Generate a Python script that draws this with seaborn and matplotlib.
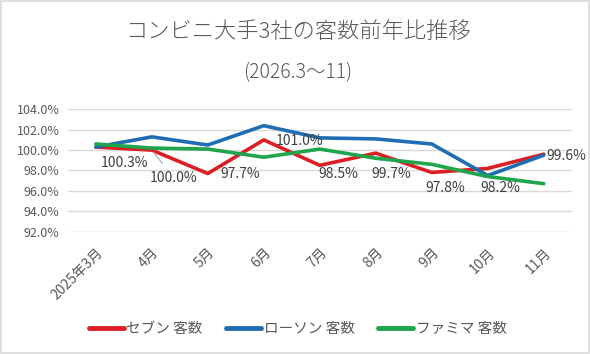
import matplotlib
matplotlib.use("Agg")
import matplotlib.pyplot as plt
import seaborn as sns
import pandas as pd
from matplotlib.patches import Rectangle
from matplotlib.ticker import FuncFormatter

months = ["2025年3月", "4月", "5月", "6月", "7月", "8月", "9月", "10月", "11月"]
seven = [100.3, 100.0, 97.7, 101.0, 98.5, 99.7, 97.8, 98.2, 99.6]
lawson = [100.3, 101.3, 100.5, 102.4, 101.2, 101.1, 100.6, 97.5, 99.5]
famima = [100.6, 100.2, 100.1, 99.3, 100.1, 99.2, 98.6, 97.4, 96.7]
series_names = ["セブン 客数", "ローソン 客数", "ファミマ 客数"]
title = "コンビニ大手3社の客数前年比推移"
subtitle = "(2026.3～11)"

sns.set_theme(style="white")
plt.rcParams["font.family"] = ["Noto Sans CJK JP", "DejaVu Sans"]

df = pd.DataFrame({
    "month": months * 3,
    "idx": list(range(len(months))) * 3,
    "value": seven + lawson + famima,
    "series": [series_names[0]] * 9 + [series_names[1]] * 9 + [series_names[2]] * 9,
})

palette = {series_names[0]: "#dc1f24", series_names[1]: "#1f6db3", series_names[2]: "#1fa54c"}

fig = plt.figure(figsize=(5.9, 3.54), dpi=100)
ax = fig.add_axes([0.115, 0.346, 0.854, 0.345])

sns.lineplot(data=df, x="idx", y="value", hue="series", palette=palette,
             linewidth=2.6, ax=ax, legend=True, sort=False)

ax.set_xlim(-0.5, len(months) - 0.5)
ax.set_ylim(92, 104)
ax.set_yticks([92, 94, 96, 98, 100, 102, 104])
ax.yaxis.set_major_formatter(FuncFormatter(lambda v, p: f"{v:.1f}%"))
ax.set_xticks(range(len(months)))
ax.set_xticklabels(months, rotation=45, ha="right", rotation_mode="anchor")
ax.tick_params(axis="x", length=0, pad=10, labelsize=10, labelcolor="#595959")
ax.tick_params(axis="y", length=0, pad=6, labelsize=9, labelcolor="#595959")
ax.grid(axis="y", color="#d9d9d9", linewidth=1)
for s in ax.spines.values():
    s.set_visible(False)
ax.set_xlabel("")
ax.set_ylabel("")

# data labels for セブン
offsets = [(20.9, -11.5), (15.8, -20.2), (23, -0.7), (26, -0.7), (13.7, -6.5),
           (11.5, -15.1), (10, -11.5), (9, -14.4), (16.6, -1.4)]
for i, (v, off) in enumerate(zip(seven, offsets)):
    kw = {}
    if i == 1:
        kw["arrowprops"] = dict(arrowstyle="-", color="#a6a6a6", lw=0.8, shrinkA=4, shrinkB=2)
    ax.annotate(f"{v:.1f}%", xy=(i, v), xytext=off, textcoords="offset points",
                ha="center", va="center", fontsize=10, color="#404040", **kw)

handles, labels = ax.get_legend_handles_labels()
ax.legend_.remove()
leg = fig.legend(handles, labels, loc="center", bbox_to_anchor=(0.505, 1 - 329 / 354),
                 ncol=3, frameon=False, fontsize=10.5, handlelength=2.4,
                 columnspacing=1.6, handletextpad=0.2)
for t in leg.get_texts():
    t.set_color("#595959")
for h in leg.get_lines():
    h.set_linewidth(3.5)
    h.set_solid_capstyle("round")

fig.text(0.505, 1 - 32 / 354, title, ha="center", va="center", fontsize=16,
         color="#595959", fontweight="light")
fig.text(0.505, 1 - 73 / 354, subtitle, ha="center", va="center", fontsize=14,
         color="#595959", fontweight="light")

fig.patches.append(Rectangle((0.002, 0.003), 0.996, 0.994, transform=fig.transFigure,
                             fill=False, edgecolor="#d9d9d9", linewidth=1.2))

fig.savefig("out.png", dpi=100, facecolor="white")
